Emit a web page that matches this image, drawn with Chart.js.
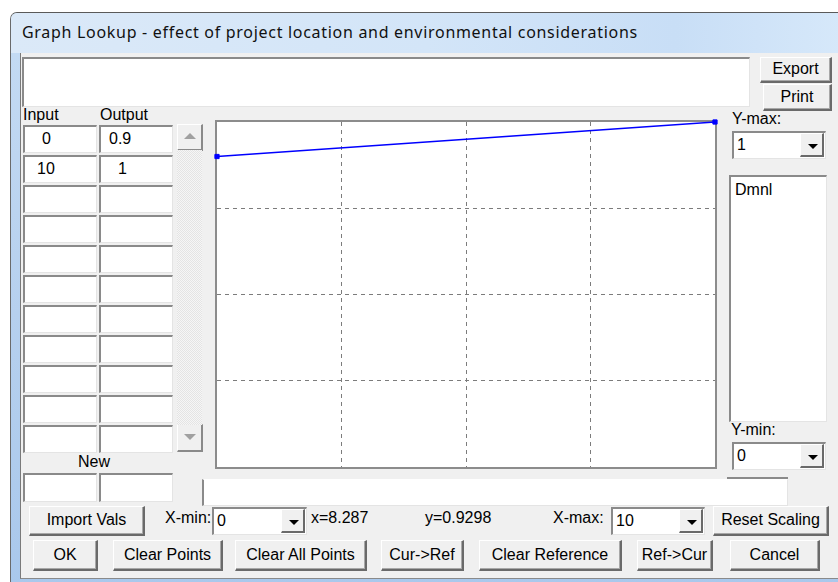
<!DOCTYPE html>
<html>
<head>
<meta charset="utf-8">
<script src="https://cdn.jsdelivr.net/npm/chart.js@4.4.1/dist/chart.umd.min.js"></script>
<style>
  body { margin: 0; width: 838px; height: 582px; background: #fff; position: relative; overflow: hidden;
         font-family: "Liberation Sans", Arial, sans-serif; font-size: 16px; color: #000; }
  .a { position: absolute; box-sizing: border-box; }
  #frame { left: 10px; top: 12px; width: 840px; height: 580px; border-top: 1px solid #5a5a5a; border-left: 1px solid #6a6a6a;
           border-radius: 7px 0 0 0; background: linear-gradient(to bottom, #cfe2f6 0, #c3daf3 40px, #b6d0ee 300px, #a9c8ec 100%); }
  #titlebar { left: 11px; top: 13px; width: 830px; height: 40px; border-radius: 6px 0 0 0;
              background: linear-gradient(to right, #dbe9f8 0, #d3e5f8 50%, #c8def6 80%, #d6e8fa 100%); }
  #title { left: 22px; top: 21px; font-family: "Noto Sans", "Open Sans", sans-serif; font-size: 16px; color: #111; white-space: nowrap; letter-spacing: 0.7px; }
  #client { left: 20px; top: 53px; width: 830px; height: 526px; background: #f0f0f0; border-left: 1px solid #7a7a7a; border-bottom: 1px solid #8a8a8a; }
  .btn { background: #f0f0f0; border-top: 1px solid #fff; border-left: 1px solid #fff; border-right: 2px solid #6a6a6a; border-bottom: 2px solid #6a6a6a;
         box-shadow: inset -1px -1px 0 #a8a8a8; text-align: center; white-space: nowrap; }
  .edit { background: #fff; border-top: 2px solid #8a8a8a; border-left: 2px solid #8a8a8a; border-right: 1px solid #e4e4e4; border-bottom: 1px solid #e4e4e4; white-space: nowrap; }
  .lbl { white-space: nowrap; }
  .dd { background: #f0f0f0; border-top: 1px solid #fff; border-left: 1px solid #fff; border-right: 2px solid #6a6a6a; border-bottom: 2px solid #6a6a6a; }
  .dd:after { content: ""; position: absolute; left: 7px; top: 10px; border-left: 5px solid transparent; border-right: 5px solid transparent; border-top: 5px solid #000; }
  .scr { background: #f0f0f0; border-top: 1px solid #fff; border-left: 1px solid #fff; border-right: 2px solid #8a8a8a; border-bottom: 2px solid #8a8a8a; }
  .up:after, .down:after { content: ""; position: absolute; left: 6px; border-left: 6px solid transparent; border-right: 6px solid transparent; }
  .up:after { top: 8px; border-bottom: 6px solid #a0a0a0; }
  .down:after { top: 9px; border-top: 6px solid #a0a0a0; }
  #track { left: 177px; top: 150px; width: 25px; height: 275px;
           background-color: #f2f2f2; background-image: repeating-conic-gradient(#e4e4e4 0 25%, #f6f6f6 0 50%); background-size: 2px 2px; }
  #plotFrame { left: 215px; top: 120px; width: 502px; height: 349px; background: #fff; border: 2px solid #8c8c8c; }
  #plotBox { left: 207px; top: 112px; width: 518px; height: 365px; }
</style>
</head>
<body>
<div id="frame" class="a"></div>
<div id="titlebar" class="a"></div>
<div id="title" class="a">Graph Lookup - effect of project location and environmental considerations</div>
<div id="client" class="a"></div>
<div id="ui"></div>
<div id="track" class="a"></div>
<div id="plotFrame" class="a"></div>
<div id="plotBox" class="a"><canvas id="lookupChart" width="518" height="365"></canvas></div>

<script>
var inputs = [0, 10];
var outputs = [0.9, 1];
var xMin = 0, xMax = 10;
var yMin = 0, yMax = 1;
var units = 'Dmnl';
var cursorX = 8.287;
var cursorY = 0.9298;
var tableRows = 11;

(function () {
    var ui = document.getElementById('ui');

    function box(cls, x, y, w, h, text, pad) {
        var d = document.createElement('div');
        d.className = 'a ' + cls;
        d.style.left = x + 'px';
        d.style.top = y + 'px';
        if (w) d.style.width = w + 'px';
        if (h) d.style.height = h + 'px';
        if (text !== undefined) {
            d.textContent = text;
            if (pad) d.style.padding = pad;
            if (h && cls.indexOf('lbl') < 0) d.style.lineHeight = (h - 4) + 'px';
        }
        ui.appendChild(d);
        return d;
    }

    function combo(x, y, w, value) {
        box('edit', x, y, w, 28, value, '0 0 0 3px');
        box('dd', x + w - 26, y + 2, 24, 24);
    }

    // top text area and export / print
    box('edit', 22, 57, 728, 50);
    box('btn', 760, 57, 72, 26, 'Export');
    box('btn', 763, 84, 69, 27, 'Print');

    // lookup table
    box('lbl', 23, 106, 0, 0, 'Input');
    box('lbl', 100, 106, 0, 0, 'Output');
    for (var i = 0; i < tableRows; i++) {
        var y = 125 + i * 30;
        box('edit', 23, y, 74, 28, i < inputs.length ? String(inputs[i]) : '', inputs[i] >= 10 ? '0 0 0 12px' : '0 0 0 17px');
        box('edit', 99, y, 74, 28, i < outputs.length ? String(outputs[i]) : '', String(outputs[i]).length > 1 ? '0 0 0 8px' : '0 0 0 17px');
    }
    box('scr up', 177, 124, 26, 27);
    box('scr down', 177, 424, 26, 28);
    box('lbl', 78, 453, 0, 0, 'New');
    box('edit', 23, 473, 74, 29);
    box('edit', 99, 473, 74, 29);

    // right side scaling
    box('lbl', 732, 110, 0, 0, 'Y-max:');
    combo(732, 131, 94, String(yMax));
    box('edit', 729, 175, 98, 247, units, '4px 0 0 4px').style.lineHeight = '18px';
    box('lbl', 731, 421, 0, 0, 'Y-min:');
    combo(732, 442, 94, String(yMin));

    // status field under chart
    box('edit', 202, 479, 586, 27).style.borderTop = '1px solid #fff';
    box('a', 727, 477, 61, 2).style.background = '#8a8a8a';

    // x scaling row
    box('btn', 29, 506, 116, 30, 'Import Vals');
    box('lbl', 165, 509, 0, 0, 'X-min:');
    combo(212, 507, 95, String(xMin));
    box('lbl', 311, 509, 0, 0, 'x=' + cursorX);
    box('lbl', 425, 509, 0, 0, 'y=' + cursorY);
    box('lbl', 553, 509, 0, 0, 'X-max:');
    combo(611, 507, 94, String(xMax));
    box('btn', 713, 506, 116, 30, 'Reset Scaling');

    // bottom buttons
    var buttons = [['OK', 33, 65], ['Clear Points', 113, 110], ['Clear All Points', 235, 132], ['Cur->Ref', 381, 83],
                   ['Clear Reference', 479, 143], ['Ref->Cur', 637, 76], ['Cancel', 730, 90]];
    buttons.forEach(function (b) { box('btn', b[1], 540, b[2], 31, b[0]); });

    // the lookup curve
    var points = inputs.map(function (x, i) { return { x: x, y: outputs[i] }; });

    function gridColor(min, max) {
        return function (ctx) {
            var v = ctx.tick ? ctx.tick.value : null;
            return (v === min || v === max) ? 'rgba(0,0,0,0)' : '#7c7c7c';
        };
    }

    new Chart(document.getElementById('lookupChart'), {
        type: 'line',
        data: {
            datasets: [{
                label: 'lookup',
                data: points,
                borderColor: '#0000ff',
                backgroundColor: '#0000ff',
                borderWidth: 1.5,
                pointStyle: 'rect',
                pointRadius: 3,
                pointBorderWidth: 1,
                clip: false,
                tension: 0
            }]
        },
        options: {
            responsive: false,
            animation: false,
            layout: { padding: 10 },
            plugins: { legend: { display: false }, tooltip: { enabled: false } },
            scales: {
                x: {
                    type: 'linear', min: xMin, max: xMax,
                    ticks: { display: false, stepSize: (xMax - xMin) / 4 },
                    grid: { color: gridColor(xMin, xMax), drawTicks: false, lineWidth: 1 },
                    border: { display: false, dash: [4, 4] }
                },
                y: {
                    type: 'linear', min: yMin, max: yMax,
                    ticks: { display: false, stepSize: (yMax - yMin) / 4 },
                    grid: { color: gridColor(yMin, yMax), drawTicks: false, lineWidth: 1 },
                    border: { display: false, dash: [4, 4] }
                }
            }
        }
    });
})();
</script>
</body>
</html>
